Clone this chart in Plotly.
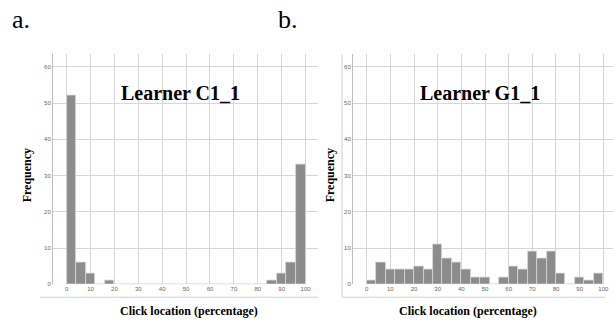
import plotly.graph_objects as go

# Data: histogram bins (lower edges, width 4) and counts per learner
bin_width = 4
bin_starts = [0, 4, 8, 12, 16, 20, 24, 28, 32, 36, 40, 44, 48, 52, 56, 60, 64, 68, 72, 76, 80, 84, 88, 92, 96]
counts_c1 = [52, 6, 3, 0, 1, 0, 0, 0, 0, 0, 0, 0, 0, 0, 0, 0, 0, 0, 0, 0, 0, 1, 3, 6, 33]
counts_g1 = [1, 6, 4, 4, 4, 5, 4, 11, 7, 6, 4, 2, 2, 0, 2, 5, 4, 9, 7, 9, 3, 0, 2, 1, 3]
x_ticks = [0, 10, 20, 30, 40, 50, 60, 70, 80, 90, 100]
y_ticks = [0, 10, 20, 30, 40, 50, 60]
titles = ["Learner C1_1", "Learner G1_1"]
panel_labels = ["a.", "b."]

W, H = 613, 324
BAR = "#8c8c8c"
GRID = "#d6d6d6"

fig = go.Figure()
for i, counts in enumerate([counts_c1, counts_g1]):
    fig.add_trace(go.Bar(
        x=bin_starts, y=counts, width=bin_width, offset=0,
        marker=dict(color=BAR, line=dict(color="#d8d8d8", width=0.8)),
        xaxis="x" if i == 0 else "x2", yaxis="y" if i == 0 else "y2",
        showlegend=False, hoverinfo="x+y",
    ))

ydom = [1 - 287 / H, 1 - 55 / H]
common_x = dict(tickvals=x_ticks, showgrid=True, gridcolor=GRID, gridwidth=1,
                zeroline=False, showline=False, ticks="",
                tickfont=dict(family="Liberation Sans", size=6, color="#666"))
common_y = dict(tickvals=y_ticks, range=[0, 63.4], showgrid=True, gridcolor=GRID,
                gridwidth=1, zeroline=False, showline=True, linecolor="#bdbdbd",
                linewidth=1, ticks="",
                tickfont=dict(family="Liberation Sans", size=6, color="#666"))

fig.update_layout(
    width=W, height=H, margin=dict(l=0, r=0, t=0, b=0),
    paper_bgcolor="white", plot_bgcolor="white", bargap=0,
    xaxis=dict(domain=[53 / W, 318 / W], range=[-5.7, 105.2], anchor="y", **common_x),
    yaxis=dict(domain=ydom, anchor="x", **common_y),
    xaxis2=dict(domain=[353 / W, 1.0], range=[-5.8, 104.1], anchor="y2", **common_x),
    yaxis2=dict(domain=ydom, anchor="x2", **common_y),
)

serif = "Liberation Serif"
ann = []
title_x = [180, 480]
ytitle_x = [27, 330]
xtitle_x = [189, 468]
label_x = [10, 276]
for i in range(2):
    ann.append(dict(text="<b>" + titles[i] + "</b>", x=title_x[i] / W, y=1 - 94 / H,
                    xref="paper", yref="paper", showarrow=False,
                    xanchor="center", yanchor="middle",
                    font=dict(family=serif, size=20, color="black")))
    ann.append(dict(text="<b>Frequency</b>", x=ytitle_x[i] / W, y=1 - 177 / H,
                    xref="paper", yref="paper", showarrow=False, textangle=-90,
                    xanchor="center", yanchor="middle",
                    font=dict(family=serif, size=12, color="black")))
    ann.append(dict(text="<b>Click location (percentage)</b>", x=xtitle_x[i] / W, y=1 - 314 / H,
                    xref="paper", yref="paper", showarrow=False,
                    xanchor="center", yanchor="middle",
                    font=dict(family=serif, size=12, color="black")))
    ann.append(dict(text=panel_labels[i], x=label_x[i] / W, y=1 - 20 / H,
                    xref="paper", yref="paper", showarrow=False,
                    xanchor="left", yanchor="middle",
                    font=dict(family=serif, size=26, color="black")))
fig.update_layout(annotations=ann)

shapes = [
    dict(type="line", xref="paper", yref="paper", x0=40 / W, x1=318 / W,
         y0=1 - 300 / H, y1=1 - 300 / H, line=dict(color="#d0d0d0", width=1)),
    dict(type="line", xref="paper", yref="paper", x0=342 / W, x1=605 / W,
         y0=1 - 300 / H, y1=1 - 300 / H, line=dict(color="#d0d0d0", width=1)),
    dict(type="line", xref="paper", yref="paper", x0=342 / W, x1=342 / W,
         y0=1 - 300 / H, y1=1 - 55 / H, line=dict(color="#d0d0d0", width=1)),
]
fig.update_layout(shapes=shapes)

fig.write_html("out.html", config={"displayModeBar": False},
               post_script="document.body.style.margin='0';")
